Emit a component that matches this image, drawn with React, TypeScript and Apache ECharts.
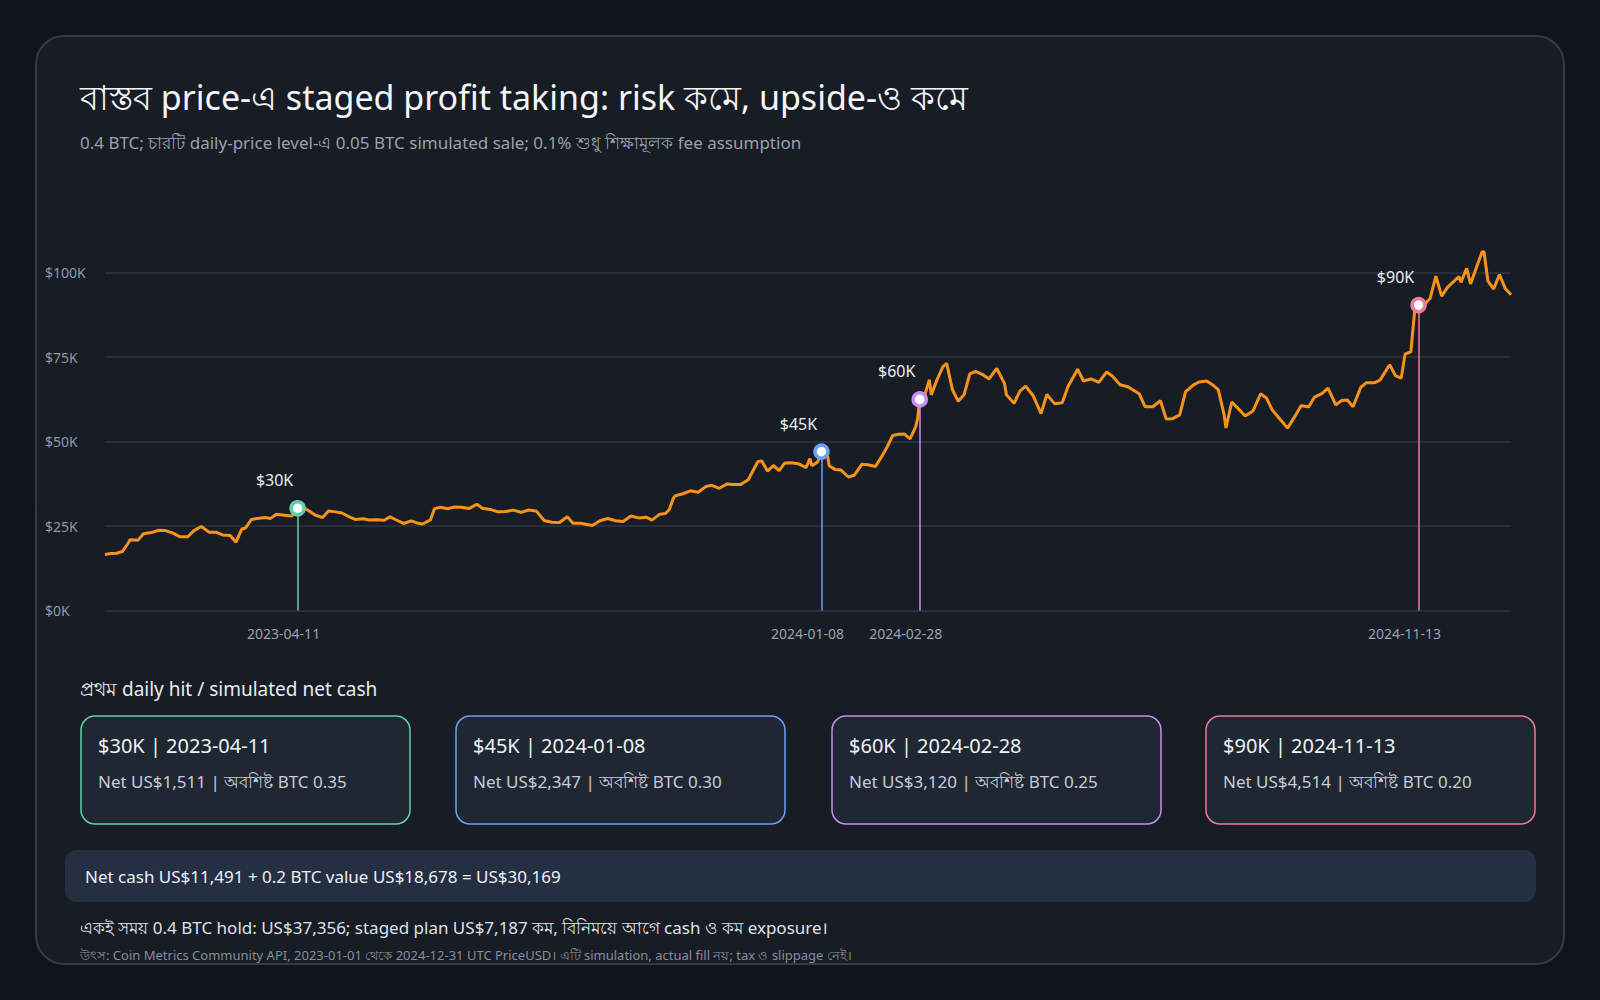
import React, { useEffect, useRef } from 'react';
import * as echarts from 'echarts';

// BTC daily close (USD)
const btc2023: [string, number][] = [
  ['2023-01-01', 16550], ['2023-01-04', 16850], ['2023-01-07', 16950], ['2023-01-10', 17450],
  ['2023-01-13', 19900], ['2023-01-14', 20950], ['2023-01-18', 20750], ['2023-01-21', 22700],
  ['2023-01-25', 23050], ['2023-01-29', 23750], ['2023-02-01', 23700], ['2023-02-05', 22950],
  ['2023-02-09', 21800], ['2023-02-13', 21800], ['2023-02-16', 23550], ['2023-02-20', 24850],
  ['2023-02-24', 23180], ['2023-02-28', 23140], ['2023-03-03', 22350], ['2023-03-07', 22200],
  ['2023-03-10', 20200], ['2023-03-13', 24100], ['2023-03-15', 24400], ['2023-03-18', 26950],
  ['2023-03-22', 27300], ['2023-03-25', 27500], ['2023-03-28', 27250], ['2023-03-31', 28450],
  ['2023-04-04', 28200], ['2023-04-08', 27950], ['2023-04-10', 29650], ['2023-04-11', 30250],
  ['2023-04-14', 30450], ['2023-04-17', 29450], ['2023-04-20', 28250], ['2023-04-24', 27500],
  ['2023-04-27', 29450], ['2023-04-30', 29250], ['2023-05-04', 28850], ['2023-05-08', 27650],
  ['2023-05-11', 26950], ['2023-05-15', 27150], ['2023-05-18', 26800], ['2023-05-22', 26850],
  ['2023-05-26', 26700], ['2023-05-29', 27700], ['2023-06-01', 26850], ['2023-06-05', 25750],
  ['2023-06-09', 26500], ['2023-06-12', 25900], ['2023-06-15', 25600], ['2023-06-19', 26850],
  ['2023-06-21', 30050], ['2023-06-24', 30550], ['2023-06-28', 30100], ['2023-07-01', 30600],
  ['2023-07-05', 30550], ['2023-07-09', 30150], ['2023-07-13', 31450], ['2023-07-16', 30250],
  ['2023-07-20', 29900], ['2023-07-24', 29180], ['2023-07-28', 29300], ['2023-08-01', 29700],
  ['2023-08-05', 29050], ['2023-08-09', 29750], ['2023-08-13', 29400], ['2023-08-17', 26650],
  ['2023-08-21', 26100], ['2023-08-25', 26050], ['2023-08-29', 27750], ['2023-09-01', 25800],
  ['2023-09-05', 25800], ['2023-09-11', 25150], ['2023-09-15', 26550], ['2023-09-19', 27200],
  ['2023-09-23', 26550], ['2023-09-27', 26350], ['2023-10-01', 27950], ['2023-10-05', 27400],
  ['2023-10-09', 27600], ['2023-10-12', 26750], ['2023-10-16', 28500], ['2023-10-19', 28700],
  ['2023-10-21', 29900], ['2023-10-23', 33100], ['2023-10-24', 33900], ['2023-10-28', 34550],
  ['2023-11-01', 35400], ['2023-11-05', 35000], ['2023-11-09', 36700], ['2023-11-12', 37050],
  ['2023-11-16', 36150], ['2023-11-20', 37450], ['2023-11-23', 37300], ['2023-11-27', 37250],
  ['2023-12-01', 38700], ['2023-12-04', 41950], ['2023-12-06', 44100], ['2023-12-08', 44200],
  ['2023-12-11', 41250], ['2023-12-14', 42900], ['2023-12-17', 41400], ['2023-12-20', 43650],
  ['2023-12-23', 43700], ['2023-12-27', 43450], ['2023-12-31', 42250],
];

const btc2024: [string, number][] = [
  ['2024-01-02', 44950], ['2024-01-03', 42850], ['2024-01-06', 43950], ['2024-01-08', 46950],
  ['2024-01-11', 46350], ['2024-01-12', 42850], ['2024-01-15', 41750], ['2024-01-18', 41600],
  ['2024-01-22', 39500], ['2024-01-25', 40000], ['2024-01-29', 43300], ['2024-02-01', 43100],
  ['2024-02-05', 42600], ['2024-02-08', 45300], ['2024-02-11', 48300], ['2024-02-14', 51800],
  ['2024-02-17', 52150], ['2024-02-20', 52250], ['2024-02-23', 50750], ['2024-02-26', 54500],
  ['2024-02-27', 57050], ['2024-02-28', 62450], ['2024-03-01', 62450], ['2024-03-04', 68300],
  ['2024-03-05', 63800], ['2024-03-08', 68300], ['2024-03-11', 72100], ['2024-03-13', 73100],
  ['2024-03-16', 65300], ['2024-03-19', 61900], ['2024-03-22', 63800], ['2024-03-25', 70000],
  ['2024-03-28', 70750], ['2024-04-01', 69700], ['2024-04-04', 68500], ['2024-04-08', 71600],
  ['2024-04-12', 67200], ['2024-04-13', 63800], ['2024-04-17', 61300], ['2024-04-20', 64900],
  ['2024-04-23', 66400], ['2024-04-27', 63450], ['2024-05-01', 58250], ['2024-05-04', 63900],
  ['2024-05-08', 61200], ['2024-05-12', 61450], ['2024-05-15', 66250], ['2024-05-20', 71400],
  ['2024-05-23', 67900], ['2024-05-27', 68500], ['2024-05-31', 67500], ['2024-06-04', 70550],
  ['2024-06-07', 69350], ['2024-06-11', 66800], ['2024-06-15', 66200], ['2024-06-18', 65150],
  ['2024-06-21', 64100], ['2024-06-24', 60300], ['2024-06-28', 60300], ['2024-07-02', 62050],
  ['2024-07-05', 56650], ['2024-07-08', 56700], ['2024-07-12', 57900], ['2024-07-15', 64700],
  ['2024-07-19', 66700], ['2024-07-22', 67600], ['2024-07-26', 67900], ['2024-07-29', 66800],
  ['2024-08-01', 65350], ['2024-08-04', 58100], ['2024-08-05', 54000], ['2024-08-08', 61700],
  ['2024-08-12', 59350], ['2024-08-15', 57550], ['2024-08-19', 59000], ['2024-08-23', 64100],
  ['2024-08-26', 62900], ['2024-08-29', 59350], ['2024-09-01', 57300], ['2024-09-06', 53950],
  ['2024-09-10', 57650], ['2024-09-13', 60550], ['2024-09-17', 60300], ['2024-09-20', 63150],
  ['2024-09-24', 64250], ['2024-09-27', 65800], ['2024-10-01', 60800], ['2024-10-04', 62100],
  ['2024-10-07', 62300], ['2024-10-10', 60300], ['2024-10-14', 66050], ['2024-10-17', 67400],
  ['2024-10-21', 67350], ['2024-10-24', 68150], ['2024-10-29', 72700], ['2024-11-01', 69500],
  ['2024-11-04', 68750], ['2024-11-06', 75850], ['2024-11-09', 76550], ['2024-11-11', 88700],
  ['2024-11-13', 90400], ['2024-11-16', 90550], ['2024-11-19', 92300], ['2024-11-22', 98900],
  ['2024-11-25', 93000], ['2024-11-28', 95600], ['2024-12-01', 97200], ['2024-12-04', 98800],
  ['2024-12-05', 97100], ['2024-12-08', 101200], ['2024-12-10', 96600], ['2024-12-13', 101400],
  ['2024-12-16', 106100], ['2024-12-17', 106150], ['2024-12-19', 97500], ['2024-12-22', 95100],
  ['2024-12-25', 99400], ['2024-12-28', 95300], ['2024-12-31', 93400],
];

// first daily hit of each level
const levelLabels = ['$30K', '$45K', '$60K', '$90K'];
const hitDates = ['2023-04-11', '2024-01-08', '2024-02-28', '2024-11-13'];
const hitPrices = [30250, 46987, 62462, 90370];
const netCash = ['US$1,511', 'US$2,347', 'US$3,120', 'US$4,514'];
const btcLeft = ['0.35', '0.30', '0.25', '0.20'];
const levelColors = ['#5fd0a8', '#6f9ff2', '#c98cf2', '#ef7b94'];

const yTicks = [0, 25000, 50000, 75000, 100000];

const App: React.FC = () => {
  const chartRef = useRef<HTMLDivElement>(null);

  useEffect(() => {
    if (!chartRef.current) return;
    const chart = echarts.init(chartRef.current, undefined, { renderer: 'svg' });
    const font = '"Noto Sans", "Open Sans", sans-serif';

    const cardX = [81, 456, 832, 1206];
    const cards: any[] = [];
    hitDates.forEach((d, i) => {
      cards.push({
        type: 'rect',
        shape: { x: cardX[i], y: 716, width: 329, height: 108, r: 14 },
        style: { fill: '#1f2733', stroke: levelColors[i], lineWidth: 1.5 },
      });
      cards.push({
        type: 'text',
        x: cardX[i] + 17,
        y: 745,
        style: {
          text: `${levelLabels[i]} | ${d}`,
          fill: '#f0f2f5',
          font: `20px ${font}`,
          textVerticalAlign: 'middle',
          verticalAlign: 'middle',
        },
      });
      cards.push({
        type: 'text',
        x: cardX[i] + 17,
        y: 781,
        style: {
          text: `Net ${netCash[i]} | অবশিষ্ট BTC ${btcLeft[i]}`,
          fill: '#c6ccd6',
          font: `17px ${font}`,
          textVerticalAlign: 'middle',
          verticalAlign: 'middle',
        },
      });
    });

    const txt = (text: string, x: number, y: number, size: number, fill: string) => ({
      type: 'text',
      x,
      y,
      style: { text, fill, font: `${size}px ${font}`, textVerticalAlign: 'middle', verticalAlign: 'middle' },
    });

    const markPoints: any[] = [];
    hitDates.forEach((d, i) => {
      markPoints.push({
        coord: [d, hitPrices[i]],
        symbol: 'circle',
        symbolSize: 13,
        itemStyle: { color: '#ffffff', borderColor: levelColors[i], borderWidth: 3.5 },
        label: {
          show: true,
          formatter: levelLabels[i],
          position: 'inside',
          offset: [-23, -28],
          color: '#e9ecf1',
          fontSize: 16,
          fontFamily: font,
        },
      });
      markPoints.push({
        coord: [d, 0],
        symbol: 'circle',
        symbolSize: 0,
        label: {
          show: true,
          formatter: d,
          position: 'inside',
          offset: [-14, 23],
          color: '#9aa2b0',
          fontSize: 14,
          fontFamily: font,
        },
      });
    });

    const option = {
      animation: false,
      backgroundColor: '#10141b',
      textStyle: { fontFamily: font },
      grid: { left: 105, right: 89, top: 272.5, bottom: 389.5 },
      xAxis: {
        type: 'time',
        min: '2023-01-01',
        max: '2024-12-31',
        axisLabel: { show: false },
        axisLine: { show: false },
        axisTick: { show: false },
        splitLine: { show: false },
      },
      yAxis: {
        type: 'value',
        min: yTicks[0],
        max: yTicks[yTicks.length - 1],
        interval: 25000,
        axisLine: { show: false },
        axisTick: { show: false },
        axisLabel: {
          formatter: (v: number) => `$${v / 1000}K`,
          align: 'left',
          margin: 60,
          color: '#8f98a8',
          fontSize: 14,
        },
        splitLine: { lineStyle: { color: '#2c3544', width: 1.5 } },
      },
      graphic: [
        {
          type: 'rect',
          z: -10,
          shape: { x: 36, y: 36, width: 1528, height: 928, r: 28 },
          style: { fill: '#181c25', stroke: '#333b49', lineWidth: 2 },
        },
        txt('বাস্তব price-এ staged profit taking: risk কমে, upside-ও কমে', 80, 97, 34, '#f3f5f8'),
        txt('0.4 BTC; চারটি daily-price level-এ 0.05 BTC simulated sale; 0.1% শুধু শিক্ষামূলক fee assumption', 80, 142, 17, '#98a1b0'),
        txt('প্রথম daily hit / simulated net cash', 80, 689, 19, '#e8ebf0'),
        ...cards,
        {
          type: 'rect',
          shape: { x: 65, y: 850, width: 1471, height: 52, r: 12 },
          style: { fill: '#243041' },
        },
        txt('Net cash US$11,491 + 0.2 BTC value US$18,678 = US$30,169', 85, 876, 17, '#eef1f5'),
        txt('একই সময় 0.4 BTC hold: US$37,356; staged plan US$7,187 কম, বিনিময়ে আগে cash ও কম exposure।', 80, 927, 17, '#dde2e9'),
        txt('উৎস: Coin Metrics Community API, 2023-01-01 থেকে 2024-12-31 UTC PriceUSD। এটি simulation, actual fill নয়; tax ও slippage নেই।', 80, 955, 13, '#858e9d'),
      ],
      series: [
        {
          type: 'line',
          data: [...btc2023, ...btc2024],
          showSymbol: false,
          clip: false,
          lineStyle: { color: '#f7931a', width: 3 },
          z: 3,
          markLine: {
            silent: true,
            symbol: ['none', 'none'],
            label: { show: false },
            data: hitDates.map((d, i) => [
              { coord: [d, 0], lineStyle: { color: levelColors[i], width: 1.5, type: 'solid' } },
              { coord: [d, hitPrices[i]] },
            ]),
          },
          markPoint: { silent: true, data: markPoints },
        },
      ],
    };

    chart.setOption(option as any);
    return () => chart.dispose();
  }, []);

  return (
    <div
      ref={chartRef}
      style={{ position: 'fixed', left: 0, top: 0, width: '1600px', height: '1000px' }}
    />
  );
};

export default App;
